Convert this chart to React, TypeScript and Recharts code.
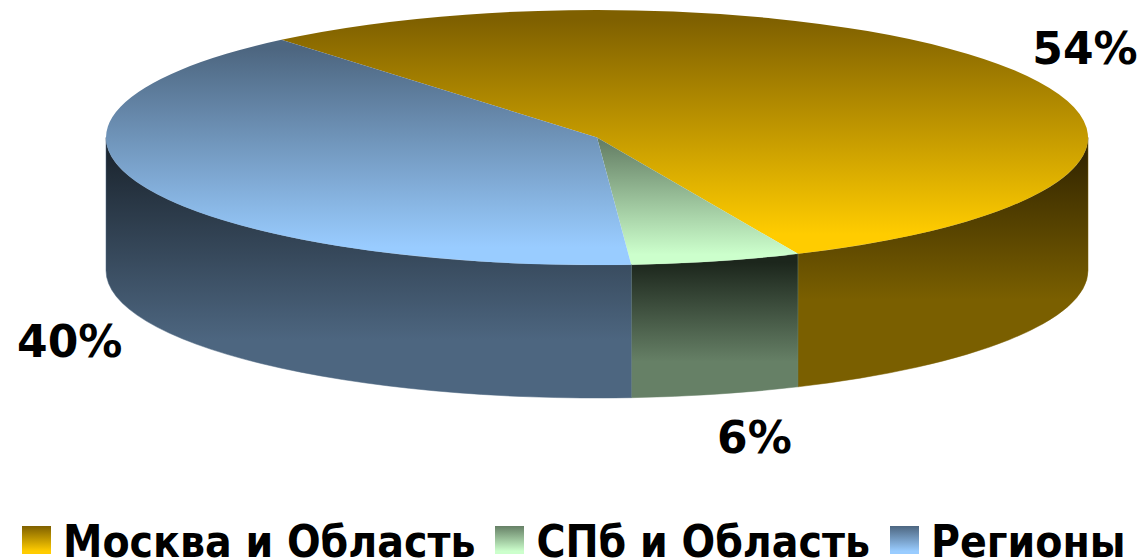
import { Legend, Pie, PieChart } from "recharts";

const regionNames = ["Москва и Область", "СПб и Область", "Регионы"];
const shares = [54.4, 5.6, 40];

const topDark = ["#7f6000", "#668066", "#4d6680"];
const topLight = ["#ffcc00", "#ccffcc", "#99ccff"];
const wallDark = ["#332600", "#1c261c", "#1c2630"];
const wallLight = ["#7a5f00", "#668066", "#4d6680"];
const wallStops = ["65%", "75%", "78%"];
const labelNudges = [
  [72, -21],
  [38, 43],
  [-72, 23],
];

const tableData = regionNames.map((name, i) => ({ name, value: shares[i], idx: i }));

const CX = 597;
const CY = 137.5;
const RX = 491;
const SQUASH = 127.5 / 491;
const DEPTH = 133;
const FONT = "'DejaVu Sans', sans-serif";
const LEGEND_FONT = "'DejaVu Sans Condensed', 'DejaVu Sans', sans-serif";

const RAD = Math.PI / 180;
const px = (a: number, r: number) => CX + r * Math.cos(a * RAD);
const py = (a: number, r: number) => CY - r * SQUASH * Math.sin(a * RAD);

function Slice3D(props: any) {
  const { startAngle, endAngle, outerRadius: r, payload } = props;
  const idx = payload?.idx ?? props.idx ?? props.index ?? 0;
  const ry = r * SQUASH;
  const large = Math.abs(startAngle - endAngle) > 180 ? 1 : 0;
  const top = `M${CX},${CY} L${px(startAngle, r)},${py(startAngle, r)} A${r},${ry} 0 ${large} 1 ${px(endAngle, r)},${py(endAngle, r)} Z`;

  // only the part of the rim facing the viewer gets a wall
  const from = Math.min(startAngle, 0);
  const to = Math.max(endAngle, -180);
  let wall = null;
  if (from > to) {
    const x0 = px(from, r);
    const y0 = py(from, r);
    const x1 = px(to, r);
    const y1 = py(to, r);
    const d = `M${x0},${y0} A${r},${ry} 0 0 1 ${x1},${y1} L${x1},${y1 + DEPTH} A${r},${ry} 0 0 0 ${x0},${y0 + DEPTH} Z`;
    wall = <path d={d} fill={`url(#wall${idx})`} stroke={wallLight[idx]} strokeWidth={0.5} />;
  }
  return (
    <g>
      {wall}
      <path d={top} fill={`url(#top${idx})`} />
    </g>
  );
}

function renderLabel(props: any) {
  const { midAngle, outerRadius: r, percent, index } = props;
  const lower = Math.sin(midAngle * RAD) < 0;
  const [dx, dy] = labelNudges[index];
  return (
    <text
      x={px(midAngle, r) + dx}
      y={py(midAngle, r) + (lower ? DEPTH : 0) + dy}
      textAnchor="middle"
      dominantBaseline="central"
      fontFamily={FONT}
      fontWeight="bold"
      fontSize={44}
      fill="#000"
    >
      {Math.round(percent * 100)}%
    </text>
  );
}

function LegendRow({ payload }: any) {
  return (
    <div style={{ display: "flex", alignItems: "center", fontFamily: LEGEND_FONT, fontWeight: "bold", fontSize: 44, color: "#000", whiteSpace: "nowrap" }}>
      {(payload || []).map((entry: any, i: number) => (
        <div key={entry.value} style={{ display: "flex", alignItems: "center", marginRight: 20 }}>
          <span
            style={{
              position: "relative",
              top: -2,
              width: 29,
              height: 28,
              marginRight: 12,
              background: `linear-gradient(${topDark[i]}, ${topLight[i]} 90%)`,
            }}
          />
          <span style={{ display: "inline-block", height: 34, lineHeight: "34px" }}>{entry.value}</span>
        </div>
      ))}
    </div>
  );
}

export default function App() {
  return (
    <div style={{ position: "absolute", left: 0, top: 0, width: 1140, height: 560, background: "#fff" }}>
      <PieChart width={1140} height={560} margin={{ top: 0, right: 0, bottom: 0, left: 0 }}>
        <defs>
          {regionNames.map((name, i) => (
            <linearGradient key={`top${name}`} id={`top${i}`} x1="0" y1="0" x2="0" y2="1">
              <stop offset="4%" stopColor={topDark[i]} />
              <stop offset="92%" stopColor={topLight[i]} />
            </linearGradient>
          ))}
          {regionNames.map((name, i) => (
            <linearGradient key={`wall${name}`} id={`wall${i}`} x1="0" y1="0" x2="0" y2="1">
              <stop offset="6%" stopColor={wallDark[i]} />
              <stop offset={wallStops[i]} stopColor={wallLight[i]} />
            </linearGradient>
          ))}
        </defs>
        <Pie
          data={tableData}
          dataKey="value"
          nameKey="name"
          cx={CX}
          cy={CY}
          innerRadius={0}
          outerRadius={RX}
          startAngle={130}
          endAngle={-230}
          paddingAngle={0}
          stroke="none"
          shape={Slice3D}
          label={renderLabel}
          labelLine={false}
          isAnimationActive={false}
        />
        <Legend content={LegendRow} itemSorter={null} wrapperStyle={{ left: 22, top: 525, width: 1140, bottom: "auto" }} />
      </PieChart>
    </div>
  );
}
